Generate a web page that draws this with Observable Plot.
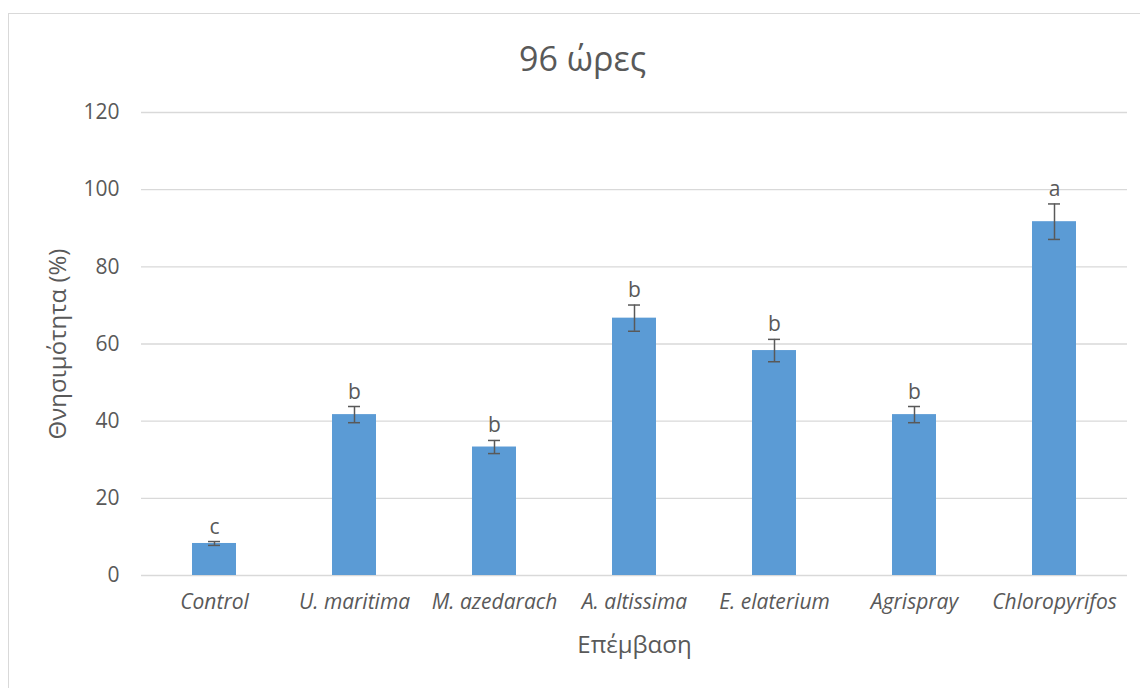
<!DOCTYPE html>
<html>
<head>
<meta charset="utf-8">
<script src="https://cdn.jsdelivr.net/npm/d3@7"></script>
<script src="https://cdn.jsdelivr.net/npm/@observablehq/plot@0.6"></script>
<style>
  html, body { margin: 0; padding: 0; background: #fff; overflow: hidden; }
  #wrap { position: relative; width: 1140px; height: 688px; }
  #border { position: absolute; left: 8px; top: 13px; width: 1200px; height: 720px;
            border: 1px solid #d9d9d9; pointer-events: none; }
  #chart { position: absolute; left: 0; top: 0; }
</style>
</head>
<body>
<div id="wrap"><div id="chart"></div><div id="border"></div></div>
<script>
const title = "96 ώρες";
const xLabel = "Επέμβαση";
const yLabel = "Θνησιμότητα (%)";
const categories = ["Control", "U. maritima", "M. azedarach", "A. altissima", "E. elaterium", "Agrispray", "Chloropyrifos"];
const values = [8.3, 41.7, 33.3, 66.7, 58.3, 41.7, 91.7];
const errors = [0.5, 2.1, 1.7, 3.4, 2.9, 2.1, 4.6];
const letters = ["c", "b", "b", "b", "b", "b", "a"];
const yTicks = [0, 20, 40, 60, 80, 100, 120];

const data = categories.map((c, i) => ({cat: c, v: values[i], e: errors[i], lab: letters[i]}));
const font = "'Open Sans', 'Noto Sans', sans-serif";
const textColor = "#595959";

const plot = Plot.plot({
  width: 1140,
  height: 688,
  marginLeft: 141,
  marginRight: 13,
  marginTop: 112,
  marginBottom: 113,
  style: {fontFamily: font, color: textColor, background: "transparent"},
  x: {domain: categories, paddingInner: 0.688, paddingOuter: 0.344, label: null},
  y: {domain: [0, 120], label: null},
  marks: [
    Plot.gridY(yTicks, {stroke: "#d9d9d9", strokeOpacity: 1, strokeWidth: 1.4}),
    Plot.barY(data, {x: "cat", y: "v", fill: "#5b9bd5"}),
    Plot.ruleX(data, {x: "cat", y1: d => d.v - d.e, y2: d => d.v + d.e, stroke: "#595959", strokeWidth: 1.5}),
    Plot.tickY(data, {x: "cat", y: d => d.v + d.e, stroke: "#595959", strokeWidth: 1.5, insetLeft: 16, insetRight: 16}),
    Plot.tickY(data, {x: "cat", y: d => d.v - d.e, stroke: "#595959", strokeWidth: 1.5, insetLeft: 16, insetRight: 16}),
    Plot.text(data, {x: "cat", y: d => d.v + d.e, text: "lab", lineAnchor: "bottom", dy: -8, fontSize: 21, fill: textColor}),
    Plot.axisY(yTicks, {tickSize: 0, tickPadding: 22, fontSize: 21, fill: textColor, label: null}),
    Plot.axisX({tickSize: 0, tickPadding: 19, fontSize: 21, fontStyle: "italic", fill: textColor, label: null}),
    Plot.text([xLabel], {frameAnchor: "bottom", text: d => d, lineAnchor: "middle", textAnchor: "middle", dy: 70, fontSize: 24, fill: textColor}),
    Plot.text([yLabel], {frameAnchor: "left", text: d => d, lineAnchor: "middle", textAnchor: "middle", dx: -83, rotate: -90, fontSize: 24, fill: textColor}),
    Plot.text([title], {frameAnchor: "top", text: d => d, lineAnchor: "middle", textAnchor: "middle", dx: -52, dy: -52, fontSize: 34, fill: textColor})
  ]
});
document.getElementById("chart").appendChild(plot);
</script>
</body>
</html>
